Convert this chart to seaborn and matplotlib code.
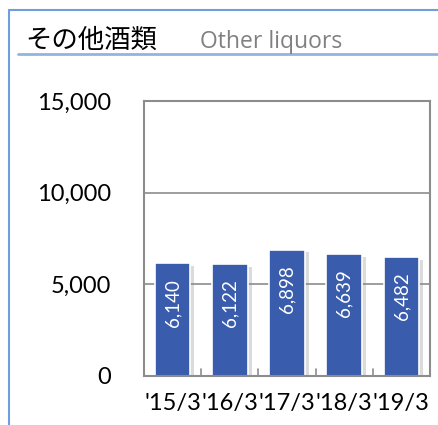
import matplotlib
matplotlib.use("Agg")
import matplotlib.pyplot as plt
import matplotlib.patheffects as pe
import seaborn as sns
import pandas as pd
from matplotlib.ticker import FuncFormatter

# data
periods = ["'15/3", "'16/3", "'17/3", "'18/3", "'19/3"]
volumes = [6140, 6122, 6898, 6639, 6482]
title_jp = "その他酒類"
title_en = "Other liquors"

df = pd.DataFrame({"period": periods, "volume": volumes})

sns.set_theme(style="white")
plt.rcParams['font.family'] = ['Lato', 'DejaVu Sans']

fig = plt.figure(figsize=(4.39, 4.25), dpi=100)
ax = fig.add_axes([144 / 439, 1 - 376 / 425, 286 / 439, 275 / 425])

sns.barplot(data=df, x="period", y="volume", color="#3A5CAD", width=0.62,
            saturation=1, edgecolor="white", linewidth=1.2, ax=ax)

# soft shadow on the bars
for p in ax.patches:
    p.set_path_effects([pe.SimplePatchShadow(offset=(3, -2), shadow_rgbFace="#888888", alpha=0.3),
                        pe.Normal()])

# value labels inside the bars
for i, v in enumerate(volumes):
    ax.annotate(f"{v:,}", xy=(i, v), xytext=(0, -11), textcoords="offset points",
                rotation=90, ha="center", va="top", color="white", fontsize=13.5)

ax.set_ylim(0, 15000)
ax.set_xlim(-0.5, 4.5)
ax.set_yticks([0, 5000, 10000, 15000])
ax.yaxis.set_major_formatter(FuncFormatter(lambda v, _: f"{int(v):,}"))
ax.grid(axis="y", color="#8c8c8c", linewidth=1.2)
ax.set_axisbelow(True)
ax.set_xlabel("")
ax.set_ylabel("")
for s in ax.spines.values():
    s.set_visible(True)
    s.set_color("#8c8c8c")
    s.set_linewidth(1.5)

# boundary ticks at the bottom
for b in [0.5, 1.5, 2.5, 3.5]:
    ax.plot([b, b], [0, 400], color="#8c8c8c", linewidth=1.2, clip_on=False)

ax.tick_params(axis="y", length=0, pad=24, labelsize=17, labelcolor="black")
ax.tick_params(axis="x", length=0, pad=12, labelsize=17, labelcolor="black")

# panel frame and header
fig.add_artist(plt.Line2D([9 / 439, 9 / 439], [0, 1 - 10 / 425], color="#6E9FDC", linewidth=1.5))
fig.add_artist(plt.Line2D([9 / 439, 1], [1 - 10 / 425, 1 - 10 / 425], color="#6E9FDC", linewidth=1.5))
fig.add_artist(plt.Line2D([18 / 439, 1], [1 - 54 / 425, 1 - 54 / 425], color="#8FB4E3", linewidth=2))
fig.text(25 / 439, 1 - 48 / 425, title_jp, fontsize=19, color="black",
         family=['Noto Sans CJK JP', 'DejaVu Sans'], va="baseline")
fig.text(200 / 439, 1 - 48 / 425, title_en, fontsize=16.5, color="#808080", va="baseline",
         family=['Open Sans', 'DejaVu Sans'])

fig.savefig("out.png", dpi=100)
